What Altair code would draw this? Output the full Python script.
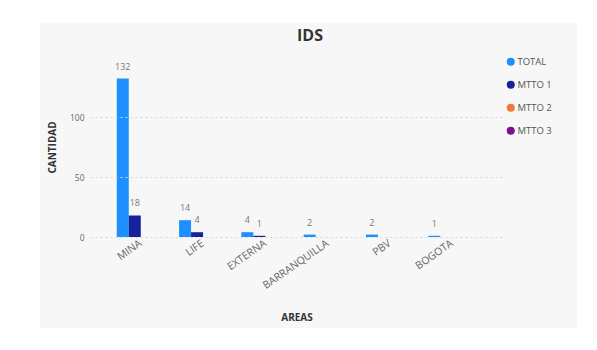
import altair as alt
import pandas as pd

areas = ["MINA", "LIFE", "EXTERNA", "BARRANQUILLA", "PBV", "BOGOTA"]
series = ["TOTAL", "MTTO 1", "MTTO 2", "MTTO 3"]
total = [132, 14, 4, 2, 2, 1]
mtto1 = [18, 4, 1, 0, 0, 0]
mtto2 = [0, 0, 0, 0, 0, 0]
mtto3 = [0, 0, 0, 0, 0, 0]
colors = ["#1E8FFF", "#17239C", "#F2773A", "#7A1187"]
chart_title = "IDS"

rows = []
for s, vals in zip(series, [total, mtto1, mtto2, mtto3]):
    for a, v in zip(areas, vals):
        rows.append({"area": a, "serie": s, "valor": v})
df = pd.DataFrame(rows)

FONT = "Open Sans"

panel = alt.Chart(alt.Data(values=[{"p": 1}])).mark_rect(color="#f7f7f7").encode(
    x=alt.value(-50), x2=alt.value(487), y=alt.value(-34), y2=alt.value(271)
)

title_mark = alt.Chart(alt.Data(values=[{"t": chart_title}])).mark_text(
    fontSize=16, font=FONT, fontWeight="bold", color="#333333",
    align="center", baseline="middle"
).encode(x=alt.value(220), y=alt.value(-21), text="t:N")

xenc = alt.X("area:N", sort=areas, title="AREAS",
             scale=alt.Scale(paddingInner=0.23, paddingOuter=0.43),
             axis=alt.Axis(labelAngle=325, labelAlign="right", labelBaseline="middle",
                           labelFontSize=10.5, labelColor="#666666",
                           labelFont=FONT, ticks=False, domain=False, labelPadding=5,
                           titleFont=FONT, titleFontSize=10, titleFontWeight="bold",
                           titleColor="#333333", titlePadding=22, grid=False, zindex=1))
xoff = alt.XOffset("serie:N", sort=series, scale=alt.Scale(paddingInner=0, paddingOuter=0))

bars = alt.Chart(df).mark_bar().encode(
    x=xenc,
    xOffset=xoff,
    y=alt.Y("valor:Q", title="CANTIDAD",
            scale=alt.Scale(domain=[0, 150], nice=False),
            axis=alt.Axis(values=[0, 50, 100], labelFontSize=8.5, labelColor="#666666",
                          labelFont=FONT, ticks=False, domain=False, labelPadding=6,
                          gridDash=[2, 3], gridColor="#d6d6d6",
                          titleFont=FONT, titleFontSize=10, titleFontWeight="bold",
                          titleColor="#333333", titlePadding=12, zindex=1)),
    color=alt.Color("serie:N", sort=series,
                    scale=alt.Scale(domain=series, range=colors),
                    legend=alt.Legend(title=None, orient="none", legendX=416, legendY=0,
                                      symbolType="circle", symbolSize=64,
                                      labelFont=FONT, labelFontSize=9.5,
                                      labelColor="#555555", rowPadding=12,
                                      symbolStrokeWidth=0, labelOffset=2)),
)

labels = alt.Chart(df).transform_filter("datum.valor > 0").mark_text(
    baseline="bottom", dy=-7, fontSize=9, color="#777777", font=FONT
).encode(
    x=alt.X("area:N", sort=areas),
    xOffset=alt.XOffset("serie:N", sort=series),
    y="valor:Q",
    text="valor:Q",
)

chart = alt.layer(panel, title_mark, bars, labels).properties(
    width=413, height=180,
    autosize=alt.AutoSizeParams(type="none"),
    padding={"left": 82, "top": 49, "right": 86, "bottom": 97},
    background="white",
).configure_view(stroke=None)

chart.save("out.html", embed_options={"renderer": "svg", "actions": False})
